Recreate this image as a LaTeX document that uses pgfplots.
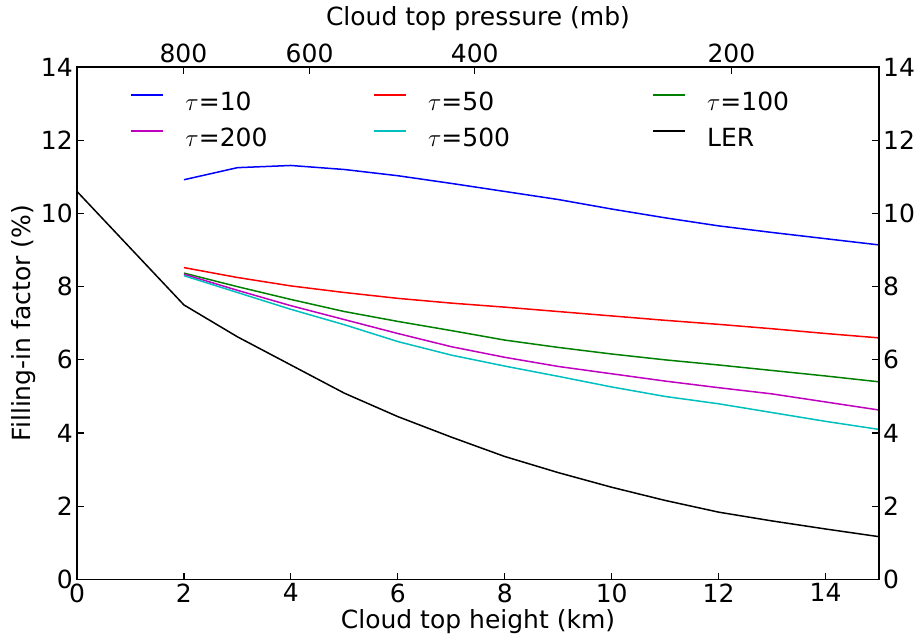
\documentclass[border=0pt]{standalone}
\usepackage{pgfplots}
\pgfplotsset{compat=1.18}
\usepackage{fontspec}
\setmainfont{DejaVu Sans}

\definecolor{mplg}{rgb}{0,0.5,0}
\definecolor{mplc}{rgb}{0,0.75,0.75}
\definecolor{mplm}{rgb}{0.75,0,0.75}

\pgfplotsset{
 common/.style={
  scale only axis, width=802pt, height=512.5pt,
  xmin=0,xmax=15,ymin=0,ymax=14,
  at={(77pt,55.5pt)}, anchor=south west,
  tick align=inside,
  major tick length=7pt,
  axis line style={-, line width=1.2pt},
  every tick/.style={black, line width=1.2pt},
  tick label style={font=\fontsize{25}{30}\selectfont, inner sep=4pt},
  label style={font=\fontsize{25}{30}\selectfont, inner sep=0pt},
  /pgf/number format/assume math mode=true,
  minor tick num=0,
 }
}

\begin{document}
\begin{tikzpicture}
\useasboundingbox (0,0) rectangle (918pt,635pt);
\begin{axis}[common,
  xtick={0,2,...,14}, ytick={0,2,...,14},
  xtick pos=left, ytick pos=left,
  xlabel={Cloud top height (km)},
  xlabel style={at={(axis description cs:0.5,0)}, anchor=north, yshift=-29.5pt},
  ylabel={Filling-in factor (\%)},
  ylabel style={at={(axis description cs:-0.0509,0.5)}, anchor=south},
  legend columns=3,
  legend cell align=left,
  legend style={draw=none, fill=none, at={(rel axis cs:0.0667,0.9499)}, anchor=north west,
    column sep=0pt, row sep=13pt, inner sep=0pt, outer sep=0pt,
    font=\fontsize{25}{30}\selectfont,
    nodes={inner sep=0pt, text height=18pt, text depth=5pt}},
  legend image code/.code={\draw[#1, line width=2pt] (0pt,9pt) -- (32pt,9pt); \path[draw=none, fill=none] (0pt,0pt) rectangle (54pt,0pt);},
]
\addplot[color=blue, line width=1.5pt, no marks] coordinates {
(2,10.92) (3,11.25) (4,11.31) (5,11.20) (6,11.03) (7,10.82) (8,10.60) (9,10.38) (10,10.12) (11,9.88) (12,9.66) (13,9.48) (14,9.31) (15,9.14)};
\addlegendentry{\makebox[187.6pt][l]{$\tau$=10}}
\addplot[color=red, line width=1.5pt, no marks] coordinates {
(2,8.52) (3,8.25) (4,8.02) (5,7.84) (6,7.68) (7,7.55) (8,7.44) (9,7.32) (10,7.20) (11,7.08) (12,6.97) (13,6.85) (14,6.72) (15,6.60)};
\addlegendentry{\makebox[224pt][l]{$\tau$=50}}
\addplot[color=mplg, line width=1.5pt, no marks] coordinates {
(2,8.37) (3,8.00) (4,7.65) (5,7.32) (6,7.05) (7,6.80) (8,6.54) (9,6.34) (10,6.16) (11,6.00) (12,5.86) (13,5.71) (14,5.56) (15,5.40)};
\addlegendentry{$\tau$=100}
\addplot[color=mplm, line width=1.5pt, no marks] coordinates {
(2,8.34) (3,7.90) (4,7.48) (5,7.10) (6,6.72) (7,6.36) (8,6.07) (9,5.82) (10,5.62) (11,5.42) (12,5.24) (13,5.07) (14,4.85) (15,4.63)};
\addlegendentry{\makebox[187.6pt][l]{$\tau$=200}}
\addplot[color=mplc, line width=1.5pt, no marks] coordinates {
(2,8.30) (3,7.84) (4,7.38) (5,6.96) (6,6.50) (7,6.13) (8,5.83) (9,5.55) (10,5.26) (11,5.00) (12,4.80) (13,4.56) (14,4.32) (15,4.10)};
\addlegendentry{\makebox[224pt][l]{$\tau$=500}}
\addplot[color=black, line width=1.5pt, no marks] coordinates {
(0,10.60) (2,7.50) (3,6.63) (4,5.86) (5,5.09) (6,4.45) (7,3.89) (8,3.36) (9,2.92) (10,2.52) (11,2.16) (12,1.84) (13,1.60) (14,1.38) (15,1.17)};
\addlegendentry{LER}
\end{axis}
\begin{axis}[common,
  axis x line*=top, axis y line*=right,
  xtick={1.99,4.35,7.44,12.24}, xticklabels={800,600,400,200},
  ytick={0,2,...,14},
  xlabel={Cloud top pressure (mb)},
  xlabel style={at={(axis description cs:0.5,1)}, anchor=south, yshift=35.8pt},
]
\end{axis}
\end{tikzpicture}
\end{document}
